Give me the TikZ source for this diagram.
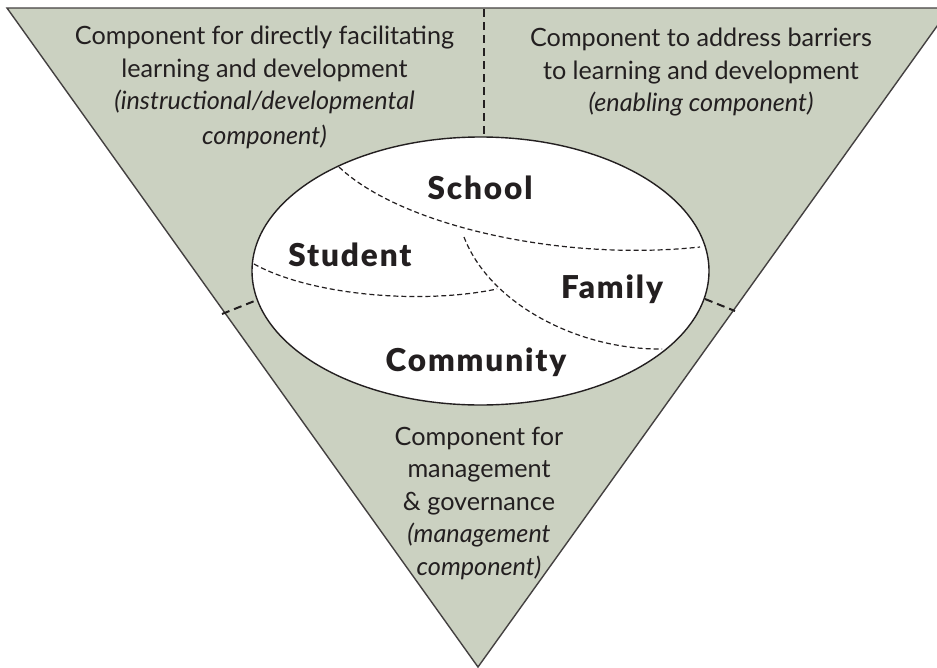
\documentclass[tikz,border=0pt]{standalone}
\usepackage{fontspec}
\setmainfont{Lato}
\newfontfamily\lblfont[LetterSpace=6]{Lato Black}
\definecolor{sage}{HTML}{CBD1C1}
\definecolor{ink}{HTML}{231F20}
\tikzset{
  every node/.style={inner sep=0pt,outer sep=0pt,text=ink},
  compText/.style={font=\fontsize{25.2}{32.5}\selectfont,align=center,anchor=north},
  bigLabel/.style={font=\lblfont\fontsize{31.5}{34}\selectfont},
  divider/.style={draw=ink,line width=2pt,dash pattern=on 8pt off 5pt},
  innerDash/.style={draw=ink,line width=1.2pt,dash pattern=on 5pt off 3pt},
  edgeLine/.style={draw=ink!85,line width=1.4pt}
}
\begin{document}
\begin{tikzpicture}[x=1pt,y=-1pt]
\useasboundingbox (0,0) rectangle (937,667);
\coordinate (tl) at (7,8);
\coordinate (tr) at (950,8);
\coordinate (ap) at (478,667);
\begin{scope}
\clip (0,0) rectangle (937,667);
\fill[sage] (tl) -- (tr) -- (ap) -- cycle;
\draw[edgeLine] (tl) -- (tr) -- (ap) -- cycle;
\end{scope}
\draw[ink,line width=1.4pt,fill=white] (480.5,271) ellipse [x radius=228.5,y radius=134];
\coordinate (d1a) at (483.5,9); \coordinate (d1b) at (483.5,136);
\coordinate (d2a) at (222,314); \coordinate (d2b) at (257,300);
\coordinate (d3a) at (705,299); \coordinate (d3b) at (735,311);
\draw[divider] (d1a) -- (d1b);
\draw[divider] (d2a) -- (d2b);
\draw[divider] (d3a) -- (d3b);
\coordinate (s1) at (339,167); \coordinate (s2) at (700,247);
\coordinate (u1) at (254,264); \coordinate (u2) at (497,289);
\coordinate (f1) at (464,237); \coordinate (f2) at (662,349);
\draw[innerDash] (s1) .. controls (400,225) and (560,262) .. (s2);
\draw[innerDash] (u1) .. controls (310,295) and (420,305) .. (u2);
\draw[innerDash] (f1) .. controls (490,305) and (580,350) .. (f2);
\node[compText] (tA) at (264.5,26) {Component for directly facilitating\\learning and development\\\textit{(instructional/developmental}\\[2pt]\textit{component)}};
\node[compText] (tB) at (701,28) {Component to address barriers\\to learning and development\\\textit{(enabling component)}};
\node[compText] (tC) at (479,427) {Component for\\management\\\& governance\\\textit{(management}\\\textit{component)}};
\node[bigLabel] (school) at (480,188) {School};
\node[bigLabel] (student) at (350,255) {Student};
\node[bigLabel] (family) at (612,289) {Family};
\node[bigLabel] (community) at (476,362) {Community};
\end{tikzpicture}
\end{document}
